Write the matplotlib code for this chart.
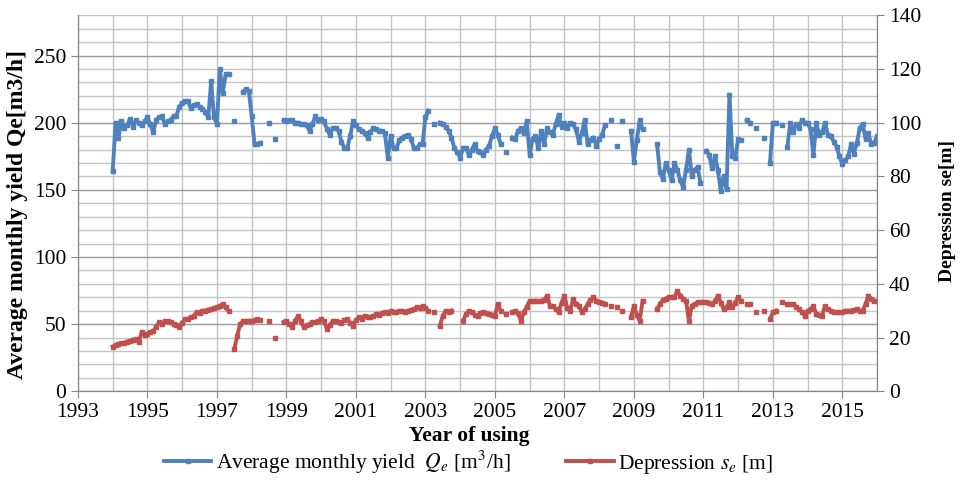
import numpy as np
import matplotlib
matplotlib.use("Agg")
import matplotlib.pyplot as plt
from matplotlib.ticker import MultipleLocator

nan = np.nan

# monthly records, first value = January 1994
first_year = 1994

yield_q = [
    164, 200, 189, 201, 196, 198, 203, 197, 202, 200, 198, 201,   # 1994
    204, 199, 193, 202, 204, 205, 199, 201, 202, 205, 205, 212,   # 1995
    215, 216, 216, 211, 213, 214, 212, 210, 208, 204, 231, 204,   # 1996
    199, 240, 222, 236, 236, nan, 201, nan, nan, 223, 225, 224,   # 1997
    205, 184, 184, 185, nan, nan, 200, nan, 188, nan, nan, 202,   # 1998
    201, 202, 202, 200, 200, 199, 199, 198, 194, 199, 205, 202,   # 1999
    203, 201, 195, 191, 196, 196, 194, 186, 181, 181, 190, 201,   # 2000
    198, 195, 194, 192, 189, 193, 196, 195, 194, 194, 192, 174,   # 2001
    190, 181, 181, 187, 189, 190, 191, 188, 181, 181, 184, 184,   # 2002
    204, 209, nan, 199, nan, 200, 199, 197, 194, 189, 181, 178,   # 2003
    174, 181, 181, 176, 180, 184, 179, 178, 176, 180, 183, 190,   # 2004
    196, 191, 184, nan, 178, nan, 189, 188, 194, 196, 192, 201,   # 2005
    176, 188, 190, 181, 194, 184, 196, 193, 191, 199, 206, 197,   # 2006
    200, 196, 200, 199, 195, 186, 192, 202, 184, 187, 189, 183,   # 2007
    188, 191, 198, nan, 202, nan, 183, nan, 201, nan, nan, 194,   # 2008
    171, 187, 202, 195, nan, nan, nan, nan, 184, 163, 158, 170,   # 2009
    165, 157, 170, 165, 157, 152, 165, 180, 160, 165, 167, 155,   # 2010
    nan, 179, 176, 166, 175, 165, 149, 160, 151, 221, 175, 174,   # 2011
    188, 187, nan, 202, 200, nan, 196, nan, nan, 189, nan, 170,   # 2012
    200, 200, nan, 198, nan, 182, 200, 193, 199, 196, 202, 200,   # 2013
    200, 195, 176, 200, 191, 193, 200, 191, 190, 186, 182, 175,   # 2014
    169, 172, 175, 184, 177, 185, 196, 199, 188, 192, 184, 185,   # 2015
    190,                                                          # 2016
]

depression_s = [
    16.6, 17.2, 17.5, 17.8, 18.0, 18.5, 18.8, 19.2, 19.4, 18.2, 22.0, 21.0,   # 1994
    21.3, 22.0, 22.5, 23.8, 25.6, 25.0, 26.2, 26.0, 25.6, 25.2, 24.5, 23.8,   # 1995
    25.5, 26.9, 27.0, 27.5, 28.0, 29.4, 29.0, 30.0, 30.0, 30.4, 30.6, 31.0,   # 1996
    31.2, 31.8, 32.5, 31.2, 30.0, nan, 15.7, 20.6, 25.0, 26.0, 26.2, 26.2,    # 1997
    26.2, 26.5, 26.9, 26.5, nan, nan, 26.2, nan, 20.0, nan, nan, 25.6,        # 1998
    26.2, 25.0, 23.8, 26.2, 28.1, 26.0, 23.8, 24.5, 25.0, 25.6, 25.6, 26.2,   # 1999
    26.9, 26.2, 23.1, 24.5, 26.2, 26.0, 25.6, 25.5, 26.5, 26.9, 25.5, 24.4,   # 2000
    26.5, 27.5, 27.0, 28.1, 27.8, 27.5, 28.0, 28.7, 28.5, 29.0, 29.4, 29.0,   # 2001
    30.0, 29.5, 29.4, 29.8, 30.0, 29.5, 30.0, 30.2, 30.5, 31.2, 31.0, 31.8,   # 2002
    31.0, 30.0, nan, 29.4, nan, 24.4, 28.1, 30.0, 29.4, 30.0, nan, nan,       # 2003
    nan, 26.2, 28.7, 30.0, 29.5, 28.5, 28.1, 29.0, 29.4, 29.0, 28.7, 28.5,    # 2004
    28.1, 32.5, 30.0, nan, 28.7, nan, 29.4, 30.0, 29.0, 26.2, 29.4, 31.5,     # 2005
    33.7, 33.5, 33.7, 33.5, 33.7, 34.0, 35.6, 31.8, 31.8, 30.5, 29.4, 33.0,   # 2006
    35.6, 31.0, 30.0, 34.3, 32.5, 31.8, 29.4, 30.5, 32.5, 34.0, 35.0, 33.7,   # 2007
    33.1, 33.0, 32.5, nan, 31.8, nan, 31.2, nan, 30.0, nan, nan, 27.5,        # 2008
    31.8, 28.5, 26.2, 33.7, nan, nan, nan, nan, 30.6, 32.5, 34.0, 34.5,       # 2009
    35.0, 35.0, 35.0, 37.4, 35.6, 34.5, 33.7, 26.2, 31.8, 32.5, 33.1, 33.1,   # 2010
    33.1, 33.1, 33.0, 32.5, 33.5, 35.6, 33.0, 30.6, 31.2, 33.1, 31.2, 33.0,   # 2011
    35.0, 33.7, nan, 32.5, 32.5, nan, 29.4, nan, nan, 30.0, nan, 26.9,        # 2012
    29.4, 30.0, nan, 33.1, nan, 32.5, 32.5, 32.5, 31.5, 30.6, 29.5, 28.1,     # 2013
    30.0, 30.5, 31.8, 28.7, 28.5, 28.1, 31.8, 30.5, 30.0, 29.6, 29.4, 29.4,   # 2014
    29.4, 30.0, 30.0, 30.0, 30.3, 30.6, 30.0, 30.0, 32.5, 35.6, 34.3, 33.7,   # 2015
    33.5,                                                                     # 2016
]

year_ticks = list(range(1993, 2016, 2))

months = first_year + np.arange(len(yield_q)) / 12.0

plt.rcParams['font.family'] = ['Liberation Serif', 'DejaVu Serif']
plt.rcParams['mathtext.fontset'] = 'stix'

blue = '#4F81BD'
red = '#C0504D'
axis_grey = '#868686'

fig, ax = plt.subplots(figsize=(9.66, 4.8), dpi=100)
fig.subplots_adjust(left=0.0807, right=0.908, top=0.968, bottom=0.185)
ax2 = ax.twinx()

l1, = ax.plot(months, yield_q, color=blue, lw=2.8, marker='s', ms=2.6,
              label='Average monthly yield  $Q_e$ [m$^3$/h]')
l2, = ax2.plot(months, depression_s, color=red, lw=2.8, marker='s', ms=2.6,
               label='Depression $s_e$ [m]')

ax.set_xlim(1993, 2016)
ax.set_ylim(0, 280)
ax2.set_ylim(0, 140)

ax.set_xticks(year_ticks)
ax.xaxis.set_minor_locator(MultipleLocator(1))
ax.yaxis.set_major_locator(MultipleLocator(50))
ax.yaxis.set_minor_locator(MultipleLocator(10))
ax2.yaxis.set_major_locator(MultipleLocator(20))

ax.set_axisbelow(True)
ax.grid(axis='x', which='both', color='#c4c4c4', lw=1.0)
ax.grid(axis='y', which='minor', color='#c4c4c4', lw=1.0)
ax.grid(axis='y', which='major', color='#9a9a9a', lw=1.0)

for a in (ax, ax2):
    a.spines['top'].set_visible(False)
    for side in ('left', 'right', 'bottom'):
        a.spines[side].set_color(axis_grey)
    a.tick_params(which='major', direction='out', length=5, color=axis_grey,
                  labelsize=15.5)
    a.tick_params(which='minor', length=0)

ax.set_xlabel('Year of using', fontsize=15.5, fontweight='bold')
ax.set_ylabel('Average monthly yield Qe[m3/h]', fontsize=17, fontweight='bold')
ax2.set_ylabel('Depression se[m]', fontsize=14, fontweight='bold')
ax.xaxis.set_label_coords(0.49, -0.092)
ax.yaxis.set_label_coords(-0.062, 0.47)
ax2.yaxis.set_label_coords(1.078, 0.48)

fig.legend(handles=[l1, l2], loc='lower center', bbox_to_anchor=(0.485, -0.032),
           ncol=2, frameon=False, fontsize=15.5, handlelength=2.2,
           columnspacing=2.6, handletextpad=0.2)

fig.savefig('out.png', dpi=100)
